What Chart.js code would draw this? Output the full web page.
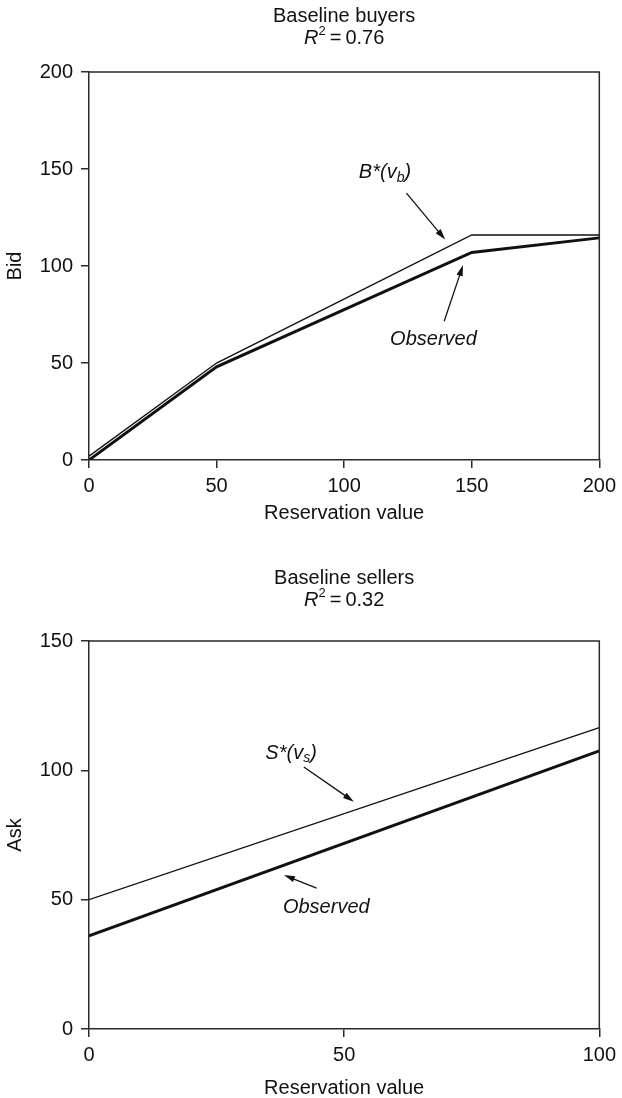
<!DOCTYPE html>
<html>
<head>
<meta charset="utf-8">
<script src="https://cdn.jsdelivr.net/npm/chart.js@4"></script>
<style>
  html, body { margin: 0; padding: 0; background: #fff; }
  #wrap { position: relative; width: 622px; height: 1098px; }
  canvas { position: absolute; left: 0; }
  #buyers { top: 0; }
  #sellers { top: 545px; }
</style>
</head>
<body>
<div id="wrap">
  <canvas id="buyers" width="622" height="545"></canvas>
  <canvas id="sellers" width="622" height="553"></canvas>
</div>
<script>
// Baseline buyers panel
const buyerReservation = [0, 50, 150, 200];
const buyerTheory = [2, 50, 116, 116];
const buyerObserved = [0, 48, 107, 114.5];
const buyerXTicks = [0, 50, 100, 150, 200];
const buyerYTicks = [0, 50, 100, 150, 200];

// Baseline sellers panel
const sellerReservation = [0, 100];
const sellerTheory = [50, 116.5];
const sellerObserved = [36, 107.5];
const sellerXTicks = [0, 50, 100];
const sellerYTicks = [0, 50, 100, 150];

const FONT = '"Liberation Sans", Arial, Helvetica, sans-serif';
const INK = '#111';
const AXIS = '#2a2a2a';

// draws a run of text pieces (italic / sub / superscript) centred on cx
function drawRich(ctx, parts, cx, cy) {
    let total = 0;
    parts.forEach(p => {
        ctx.font = `${p.italic ? 'italic ' : ''}${p.size || 20}px ${FONT}`;
        p.w = ctx.measureText(p.t).width;
        total += p.w;
    });
    let x = cx - total / 2;
    ctx.textBaseline = 'middle';
    ctx.textAlign = 'left';
    parts.forEach(p => {
        ctx.font = `${p.italic ? 'italic ' : ''}${p.size || 20}px ${FONT}`;
        ctx.fillText(p.t, x, cy + (p.dy || 0));
        x += p.w;
    });
}

function drawArrow(ctx, x1, y1, x2, y2) {
    const ang = Math.atan2(y2 - y1, x2 - x1);
    const len = 11, half = 3.2;
    ctx.beginPath();
    ctx.moveTo(x1, y1);
    ctx.lineTo(x2 - Math.cos(ang) * len * 0.8, y2 - Math.sin(ang) * len * 0.8);
    ctx.lineWidth = 1.3;
    ctx.stroke();
    ctx.beginPath();
    ctx.moveTo(x2, y2);
    ctx.lineTo(x2 - Math.cos(ang) * len - Math.sin(ang) * half, y2 - Math.sin(ang) * len + Math.cos(ang) * half);
    ctx.lineTo(x2 - Math.cos(ang) * len + Math.sin(ang) * half, y2 - Math.sin(ang) * len - Math.cos(ang) * half);
    ctx.closePath();
    ctx.fill();
}

const framePlugin = {
    id: 'frame',
    afterDraw(chart) {
        const { ctx, chartArea: a } = chart;
        ctx.save();
        ctx.strokeStyle = AXIS;
        ctx.lineWidth = 1.5;
        ctx.beginPath();
        ctx.moveTo(a.left, a.top);
        ctx.lineTo(a.right, a.top);
        ctx.lineTo(a.right, a.bottom);
        ctx.stroke();
        ctx.restore();
    }
};

const titlePlugin = {
    id: 'panelTitle',
    afterDraw(chart, args, opts) {
        const { ctx, chartArea: a } = chart;
        const cx = (a.left + a.right) / 2;
        ctx.save();
        ctx.fillStyle = INK;
        drawRich(ctx, [{ t: opts.title }], cx, opts.y1);
        drawRich(ctx, [
            { t: 'R', italic: true },
            { t: '2', size: 13, dy: -7 },
            { t: '\u2009=\u20090.' + opts.r2 }
        ], cx, opts.y2);
        ctx.restore();
    }
};

const calloutPlugin = {
    id: 'callouts',
    afterDraw(chart, args, opts) {
        const { ctx } = chart;
        const sx = chart.scales.x, sy = chart.scales.y;
        ctx.save();
        ctx.fillStyle = INK;
        ctx.strokeStyle = INK;
        (opts.items || []).forEach(item => {
            drawRich(ctx, item.parts, sx.getPixelForValue(item.at[0]), sy.getPixelForValue(item.at[1]));
            const [ax, ay, bx, by] = item.arrow;
            drawArrow(ctx, sx.getPixelForValue(ax), sy.getPixelForValue(ay),
                sx.getPixelForValue(bx), sy.getPixelForValue(by));
        });
        ctx.restore();
    }
};

function starLabel(letter, sub) {
    return [
        { t: letter, italic: true },
        { t: '*', italic: true },
        { t: '(v', italic: true },
        { t: sub, italic: true, size: 14, dy: 5 },
        { t: ')', italic: true }
    ];
}

function makePanel(id, cfg) {
    const toPoints = (ys) => cfg.xs.map((x, i) => ({ x: x, y: ys[i] }));
    const tickFont = { family: FONT, size: 20 };
    return new Chart(document.getElementById(id), {
        type: 'scatter',
        data: {
            datasets: [
                { data: toPoints(cfg.theory), showLine: true, borderColor: INK, borderWidth: 1.4, pointRadius: 0 },
                { data: toPoints(cfg.observed), showLine: true, borderColor: INK, borderWidth: 3, pointRadius: 0 }
            ]
        },
        options: {
            responsive: false,
            animation: false,
            events: [],
            layout: { padding: { top: cfg.padTop, right: 20, left: 0, bottom: 0 } },
            plugins: {
                legend: { display: false },
                tooltip: { enabled: false },
                panelTitle: cfg.title,
                callouts: { items: cfg.callouts }
            },
            scales: {
                x: {
                    type: 'linear',
                    min: cfg.xTicks[0],
                    max: cfg.xTicks[cfg.xTicks.length - 1],
                    afterBuildTicks: s => { s.ticks = cfg.xTicks.map(v => ({ value: v })); },
                    afterFit: s => { s.height = cfg.xAxisHeight; },
                    grid: { drawOnChartArea: false, drawTicks: true, tickLength: 8, color: AXIS, lineWidth: 1.5 },
                    border: { color: AXIS, width: 1.5 },
                    ticks: { padding: 6, color: INK, font: tickFont, maxRotation: 0, autoSkip: false },
                    title: {
                        display: true, text: 'Reservation value', color: INK,
                        font: { family: FONT, size: 20, lineHeight: 1 },
                        padding: { top: 0, bottom: cfg.xTitlePad }
                    }
                },
                y: {
                    type: 'linear',
                    min: cfg.yTicks[0],
                    max: cfg.yTicks[cfg.yTicks.length - 1],
                    afterBuildTicks: s => { s.ticks = cfg.yTicks.map(v => ({ value: v })); },
                    afterFit: s => { s.width = 89; },
                    grid: { drawOnChartArea: false, drawTicks: true, tickLength: 8, color: AXIS, lineWidth: 1.5 },
                    border: { color: AXIS, width: 1.5 },
                    ticks: { padding: 8, color: INK, font: tickFont, autoSkip: false },
                    title: {
                        display: true, text: cfg.yTitle, color: INK,
                        font: { family: FONT, size: 20, lineHeight: 1 },
                        padding: { top: 5, bottom: 0 }
                    }
                }
            }
        },
        plugins: [framePlugin, titlePlugin, calloutPlugin]
    });
}

makePanel('buyers', {
    xs: buyerReservation,
    theory: buyerTheory,
    observed: buyerObserved,
    xTicks: buyerXTicks,
    yTicks: buyerYTicks,
    yTitle: 'Bid',
    padTop: 72,
    xAxisHeight: 85,
    xTitlePad: 22,
    title: { title: 'Baseline buyers', r2: '76', y1: 16, y2: 38 },
    callouts: [
        { parts: starLabel('B', 'b'), at: [116, 148], arrow: [124.4, 137.6, 139.6, 113.6] },
        { parts: [{ t: 'Observed', italic: true }], at: [135, 62], arrow: [139.2, 71.5, 146.6, 100.5] }
    ]
});

makePanel('sellers', {
    xs: sellerReservation,
    theory: sellerTheory,
    observed: sellerObserved,
    xTicks: sellerXTicks,
    yTicks: sellerYTicks,
    yTitle: 'Ask',
    padTop: 96,
    xAxisHeight: 69,
    xTitlePad: 0,
    title: { title: 'Baseline sellers', r2: '32', y1: 33, y2: 55 },
    callouts: [
        { parts: starLabel('S', 's'), at: [39.6, 106.7], arrow: [42.1, 101.3, 51.9, 87.9] },
        { parts: [{ t: 'Observed', italic: true }], at: [46.5, 47], arrow: [44.6, 54.5, 38.2, 59.5] }
    ]
});
</script>
</body>
</html>
